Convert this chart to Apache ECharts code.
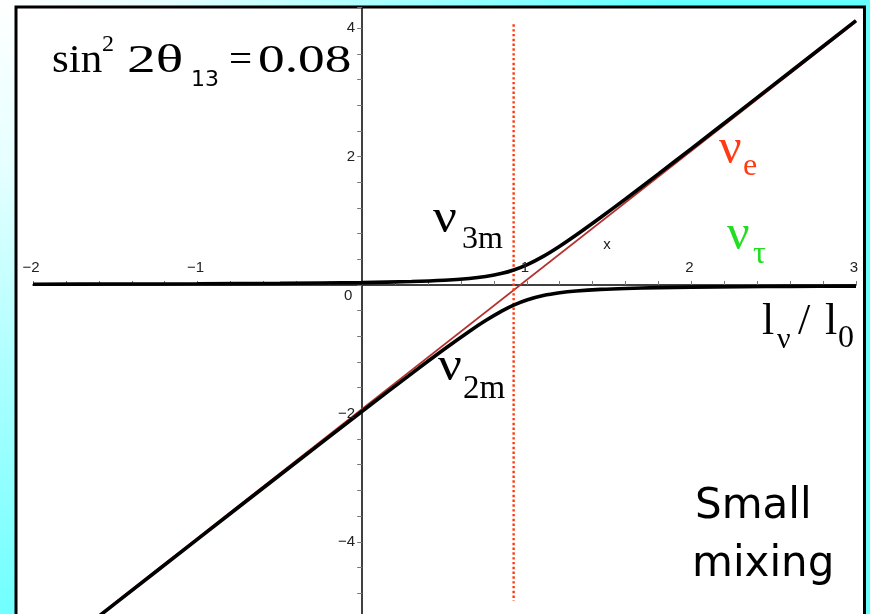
<!DOCTYPE html>
<html>
<head>
<meta charset="utf-8">
<script src="https://cdn.jsdelivr.net/npm/echarts@6/dist/echarts.min.js"></script>
<style>
  html, body { margin: 0; padding: 0; background: #ffffff; }
  #chart { width: 870px; height: 614px; }
</style>
</head>
<body>
<div id="chart"></div>
<script>
// Sample positions along l_nu / l_0
const xSamples = [-2, -1.5, -1, -0.5, 0, 0.3, 0.5, 0.65, 0.75, 0.85, 0.92, 1.0, 1.1, 1.2, 1.3, 1.45, 1.6, 1.8, 2.0, 2.3, 2.6, 3.0];
// Heavier matter eigenstate nu_3m
const nu3m = [0.012, 0.015, 0.018, 0.025, 0.037, 0.053, 0.073, 0.101, 0.132, 0.181, 0.233, 0.313, 0.445, 0.603, 0.777, 1.054, 1.340, 1.730, 2.124, 2.720, 3.318, 4.118];
// Lighter matter eigenstate nu_2m
const nu2m = [-5.962, -4.960, -3.958, -2.960, -1.967, -1.380, -0.998, -0.724, -0.554, -0.403, -0.313, -0.233, -0.164, -0.121, -0.094, -0.069, -0.054, -0.042, -0.034, -0.027, -0.022, -0.018];
// Flavour level nu_e (straight line) at both ends of the range
const nuEX = [-2, 3];
const nuEY = [-5.95, 4.10];
// Resonance marker: position and vertical extent
const resonanceX = 0.92;
const resonanceY = [4.06, -4.92];
// Tick labels shown on the axes
const xTickLabels = { '-2': '−2', '-1': '−1', '1': '1', '2': '2', '3': '3' };
const yTickLabels = { '4': '4', '2': '2', '-2': '−2', '-4': '−4' };

const SERIF = "'Liberation Serif', 'Times New Roman', serif";
const SANS = "'Liberation Sans', Arial, sans-serif";
const ROUND = "'DejaVu Sans', Verdana, sans-serif";
// distance from canvas 'middle' baseline to the alphabetic baseline, per em
const MID = { [SERIF]: 0.3375, [SANS]: 0.3465, [ROUND]: 0.346 };

const toPairs = (xs, ys) => xs.map((x, i) => [x, ys[i]]);

// text pieces: [text, left, baseline, size, family, colour, scaleX]
const pieces = [
  ['sin', 52, 75, 41, SERIF, '#000', 1.05],
  ['2', 102, 53, 24, SERIF, '#000', 1.0],
  ['2θ', 127, 75, 41, SERIF, '#000', 1.4],
  ['13', 191, 88, 22, ROUND, '#000', 1.0],
  ['=', 229, 75, 41, SERIF, '#000', 1.0],
  ['0.08', 258, 75, 41, SERIF, '#000', 1.3],

  ['ν', 433, 236, 48, SERIF, '#000', 1.1],
  ['3m', 462, 250, 32, SERIF, '#000', 1.0],
  ['ν', 438, 384, 48, SERIF, '#000', 1.1],
  ['2m', 463, 400, 33, SERIF, '#000', 1.0],

  ['ν', 719, 167, 50, SERIF, '#ff3a14', 1.0],
  ['e', 743, 177, 32, SERIF, '#ff3a14', 1.0],
  ['ν', 727, 253, 50, SERIF, '#22dd22', 1.0],
  ['τ', 753, 265, 32, SERIF, '#22dd22', 1.0],

  ['l', 762, 337, 44, SERIF, '#000', 1.0],
  ['ν', 777, 350, 30, SERIF, '#000', 1.0],
  ['/', 798, 337, 44, SERIF, '#000', 1.0],
  ['l', 825, 337, 44, SERIF, '#000', 1.0],
  ['0', 838, 349, 32, SERIF, '#000', 1.0],

  ['Small', 695, 522, 42, ROUND, '#000', 1.0],
  ['mixing', 692, 580, 42, ROUND, '#000', 1.0]
];

const textElements = pieces.map(([text, left, base, size, family, color, sx]) => ({
  type: 'text',
  x: left,
  y: base - MID[family] * size,
  scaleX: sx,
  z: 50,
  style: { text, fontSize: size, fontFamily: family, fill: color, align: 'left', verticalAlign: 'middle' }
}));

const chart = echarts.init(document.getElementById('chart'), null, { renderer: 'canvas' });

chart.setOption({
  animation: false,
  grid: {
    left: 33, right: 14, top: 7, height: 611.8,
    containLabel: false, outerBoundsMode: 'none'
  },
  xAxis: {
    type: 'value', min: -2, max: 3, interval: 0.2,
    axisLine: { onZero: true, lineStyle: { color: '#000', width: 1.5 } },
    axisTick: { inside: true, length: 4, lineStyle: { color: '#777', width: 1 } },
    axisLabel: { show: false },
    splitLine: { show: false }
  },
  yAxis: {
    type: 'value', min: -5.2, max: 4.33, interval: 0.4,
    axisLine: { onZero: true, lineStyle: { color: '#000', width: 1.5 } },
    axisTick: { length: 5, lineStyle: { color: '#777', width: 1 } },
    axisLabel: { show: false },
    splitLine: { show: false }
  },
  series: [
    {
      name: 'ν_e', type: 'line', data: toPairs(nuEX, nuEY),
      symbol: 'none', z: 3,
      lineStyle: { color: '#b3302c', width: 1.7 }
    },
    {
      name: 'resonance', type: 'line',
      data: toPairs([resonanceX, resonanceX], resonanceY),
      symbol: 'none', z: 3,
      lineStyle: { color: '#ff3a10', width: 2.4, type: [2.4, 2.4] }
    },
    {
      name: 'ν3m', type: 'line', data: toPairs(xSamples, nu3m),
      symbol: 'none', smooth: 0.3, z: 4,
      lineStyle: { color: '#000', width: 3.6 }
    },
    {
      name: 'ν2m', type: 'line', data: toPairs(xSamples, nu2m),
      symbol: 'none', smooth: 0.3, z: 4,
      lineStyle: { color: '#000', width: 3.6 }
    }
  ]
});

// Tick labels sit next to the axes that cross at the origin
const tickLabelStyle = { fontSize: 15, fontFamily: SANS, fill: '#222', verticalAlign: 'middle' };
const tickElements = [];
Object.keys(xTickLabels).forEach((k) => {
  const [px, py] = chart.convertToPixel({ gridIndex: 0 }, [Number(k), 0]);
  tickElements.push({
    type: 'text', x: px - 2, y: py - 17, z: 50,
    style: Object.assign({ text: xTickLabels[k], align: 'center' }, tickLabelStyle)
  });
});
Object.keys(yTickLabels).forEach((k) => {
  const [px, py] = chart.convertToPixel({ gridIndex: 0 }, [0, Number(k)]);
  tickElements.push({
    type: 'text', x: px - 7, y: py, z: 50,
    style: Object.assign({ text: yTickLabels[k], align: 'right' }, tickLabelStyle)
  });
});
// origin label and the small axis name
const [ox, oy] = chart.convertToPixel({ gridIndex: 0 }, [0, 0]);
tickElements.push(
  { type: 'text', x: ox - 14, y: oy + 11, z: 50,
    style: Object.assign({ text: '0', align: 'center' }, tickLabelStyle) },
  { type: 'text', x: 607, y: 245, z: 50,
    style: Object.assign({ text: 'x', align: 'center' }, tickLabelStyle) }
);

chart.setOption({
  graphic: [
    {
      type: 'rect', z: -20, silent: true,
      shape: { x: 0, y: 0, width: 870, height: 614 },
      style: {
        fill: new echarts.graphic.RadialGradient(0, 0, 660, [
          { offset: 0, color: '#ffffff' },
          { offset: 0.25, color: '#e6ffff' },
          { offset: 0.6, color: '#a6ffff' },
          { offset: 1, color: '#66ffff' }
        ], true)
      }
    },
    {
      type: 'rect', z: -10, silent: true,
      shape: { x: 16, y: 7, width: 848.5, height: 640 },
      style: { fill: '#ffffff', stroke: '#000000', lineWidth: 3 }
    },
    ...textElements,
    ...tickElements
  ]
});
</script>
</body>
</html>
